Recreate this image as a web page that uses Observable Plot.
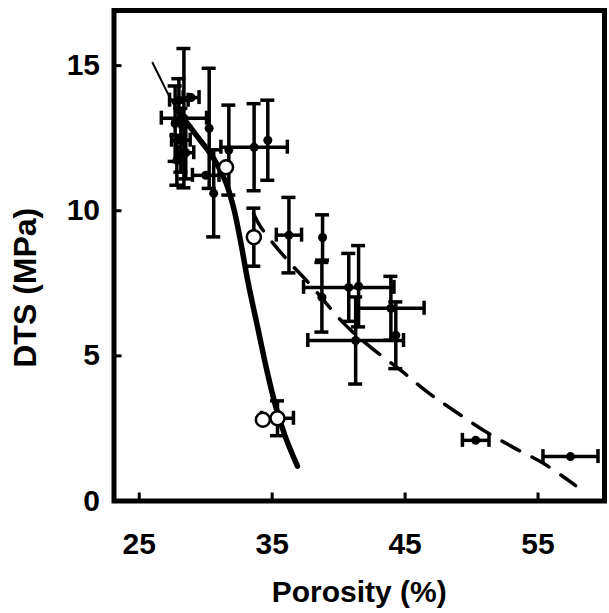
<!DOCTYPE html>
<html><head><meta charset="utf-8">
<script src="https://cdn.jsdelivr.net/npm/d3@7"></script>
<script src="https://cdn.jsdelivr.net/npm/@observablehq/plot@0.6"></script>
<style>body{margin:0;background:#fff}</style>
</head><body><div id="chart"></div>
<script>
// Axis ticks
const xTicks = [25, 35, 45, 55];
const yTicks = [0, 5, 10, 15];
const xLabel = "Porosity (%)";
const yLabel = "DTS (MPa)";

// Solid model curve (thin upper part and thick lower part)
const solidThinX = [26.0, 26.6, 27.2, 27.8];
const solidThinY = [15.1, 14.55, 14.0, 13.5];
const solidThickX = [27.8, 29.3, 30.6, 31.5, 32.1, 32.6, 33.2, 33.9, 34.6, 35.3, 36.0, 36.9];
const solidThickY = [13.5, 12.6, 11.8, 11.0, 10.1, 9.0, 7.5, 6.0, 4.5, 3.2, 2.2, 1.2];

// Dashed model curve
const dashX = [33.6, 34.15, 36.03, 37.91, 40.39, 42.42, 44.68, 46.71, 48.66, 50.92, 53.17, 55.43, 57.83];
const dashY = [9.9, 9.43, 8.36, 7.43, 6.12, 5.29, 4.5, 3.74, 3.12, 2.43, 1.84, 1.29, 0.53];

// Filled data points with error bars
const fullX    = [28.36, 27.98, 28.13, 27.83, 27.7, 28.5, 28.9, 30.26, 30.6, 30.0, 31.74, 33.64, 34.67, 36.26, 38.79, 41.28, 40.76, 41.5, 38.74, 43.93, 44.3, 50.31, 57.44];
const fullY    = [13.19, 13.81, 12.43, 11.74, 13.0, 12.0, 13.9, 12.84, 10.6, 11.22, 12.09, 12.19, 12.43, 9.16, 9.08, 5.53, 7.36, 7.4, 7.02, 6.64, 5.71, 2.09, 1.53];
const fullXErr = [1.7, 0.7, 0.7, 0, 0, 0.6, 0.6, 0, 0, 1.0, 0, 2.5, 0, 0.95, 0, 3.6, 3.4, 0, 0, 2.5, 0, 1.0, 2.07];
const fullYErr = [2.4, 0.74, 1.1, 0.86, 1.3, 0.9, 0, 2.07, 1.5, 0, 1.55, 1.5, 1.38, 1.3, 0.78, 1.5, 1.17, 1.4, 1.2, 1.1, 1.15, 0, 0];

// Open-circle data points
const openX    = [31.53, 33.62, 34.3, 35.4];
const openY    = [11.5, 9.09, 2.8, 2.85];
const openXErr = [0, 0, 0, 1.2];
const openYErr = [0, 1.0, 0, 0.6];

const solidThin = solidThinX.map((x, i) => ({x, y: solidThinY[i]}));
const solidThick = solidThickX.map((x, i) => ({x, y: solidThickY[i]}));
const dashed = dashX.map((x, i) => ({x, y: dashY[i]}));
const full = fullX.map((x, i) => ({x, y: fullY[i], xe: fullXErr[i], ye: fullYErr[i]}));
const open = openX.map((x, i) => ({x, y: openY[i], xe: openXErr[i], ye: openYErr[i]}));
const all = full.concat(open);
const vBars = all.filter(d => d.ye > 0);
const hBars = all.filter(d => d.xe > 0);
const vCaps = vBars.flatMap(d => [{x: d.x, y: d.y - d.ye}, {x: d.x, y: d.y + d.ye}]);
const hCaps = hBars.flatMap(d => [{x: d.x - d.xe, y: d.y}, {x: d.x + d.xe, y: d.y}]);

const font = {fontSize: 30, fontWeight: "bold", fill: "black"};
const sw = 3.5;

const chart = Plot.plot({
  width: 609,
  height: 613,
  marginLeft: 113.5,
  marginRight: 5,
  marginTop: 10,
  marginBottom: 112.5,
  style: {fontFamily: "'Liberation Sans', Arial, Helvetica, sans-serif", background: "white"},
  x: {domain: [23.1, 60.0], axis: null},
  y: {domain: [0, 16.9], axis: null},
  marks: [
    Plot.axisX({ticks: xTicks, tickSize: -8, tickFormat: () => "", label: null, strokeWidth: 3}),
    Plot.axisY({ticks: yTicks, tickSize: -8, tickFormat: () => "", label: null, strokeWidth: 3}),
    Plot.text(xTicks, {x: d => d, frameAnchor: "bottom", lineAnchor: "middle", textAnchor: "middle", dy: 43.5, text: d => String(d), ...font}),
    Plot.text(yTicks, {y: d => d, frameAnchor: "left", lineAnchor: "middle", dx: -14, textAnchor: "end", text: d => String(d), ...font}),
    Plot.text([xLabel], {frameAnchor: "bottom", lineAnchor: "middle", textAnchor: "middle", dy: 91.5, text: d => d, ...font}),
    Plot.text([yLabel], {frameAnchor: "left", lineAnchor: "middle", textAnchor: "middle", dx: -88, dy: 32, rotate: -90, text: d => d, ...font, fontSize: 32, letterSpacing: "2px"}),
    Plot.line(solidThin, {x: "x", y: "y", stroke: "black", strokeWidth: 2, curve: "catmull-rom"}),
    Plot.line(solidThick, {x: "x", y: "y", stroke: "black", strokeWidth: 5.5, curve: "catmull-rom"}),
    Plot.line(dashed, {x: "x", y: "y", stroke: "black", strokeWidth: 3.5, strokeDasharray: "20,14", curve: "catmull-rom"}),
    Plot.ruleX(vBars, {x: "x", y1: d => d.y - d.ye, y2: d => d.y + d.ye, stroke: "black", strokeWidth: sw}),
    Plot.ruleY(vCaps, {y: "y", x1: "x", x2: "x", insetLeft: -7, insetRight: -7, stroke: "black", strokeWidth: sw}),
    Plot.ruleY(hBars, {y: "y", x1: d => d.x - d.xe, x2: d => d.x + d.xe, stroke: "black", strokeWidth: sw}),
    Plot.ruleX(hCaps, {x: "x", y1: "y", y2: "y", insetTop: -7, insetBottom: -7, stroke: "black", strokeWidth: sw}),
    Plot.dot(full, {x: "x", y: "y", r: 4.5, fill: "black", stroke: "none"}),
    Plot.dot(open, {x: "x", y: "y", r: 7, fill: "white", stroke: "black", strokeWidth: 2.5}),
    Plot.frame({stroke: "black", strokeWidth: 5})
  ]
});
document.getElementById("chart").appendChild(chart);
</script>
</body></html>
